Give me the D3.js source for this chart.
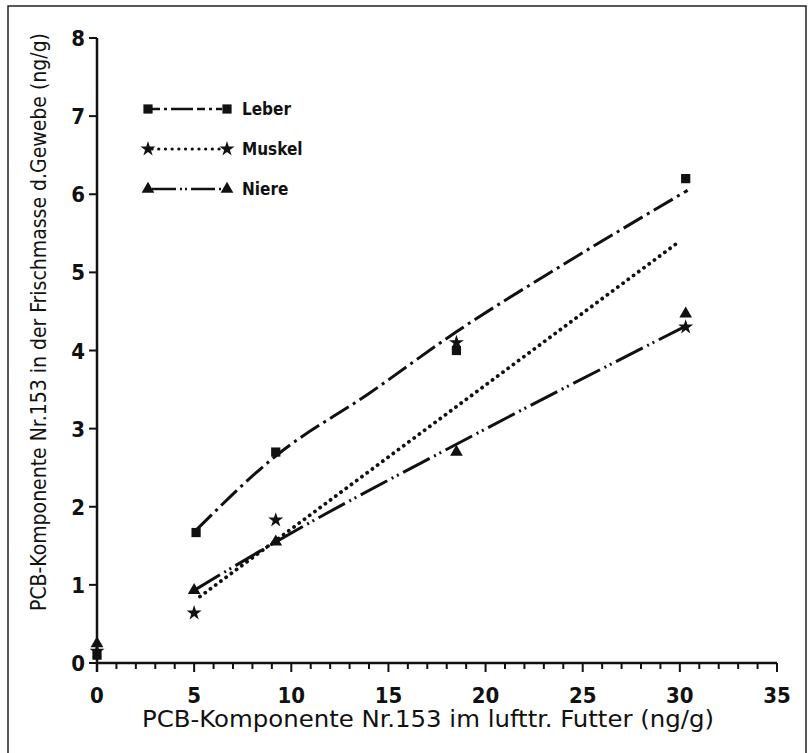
<!DOCTYPE html>
<html>
<head>
<meta charset="utf-8">
<script src="https://cdn.jsdelivr.net/npm/d3@7/dist/d3.min.js"></script>
<style>
  body { margin: 0; background: #fff; }
  text { font-family: "DejaVu Sans Condensed", "DejaVu Sans", sans-serif; fill: #111; }
</style>
</head>
<body>
<svg id="chart" width="809" height="753"></svg>
<script>
// measured points
const leberX  = [0, 5.1, 9.2, 18.5, 30.3]
const leberY  = [0.1, 1.67, 2.7, 4.0, 6.2]
const muskelX = [0, 5.0, 9.2, 18.5, 30.3]
const muskelY = [0.15, 0.64, 1.83, 4.1, 4.3]
const niereX  = [0, 5.0, 9.2, 18.5, 30.3]
const niereY  = [0.25, 0.93, 1.55, 2.7, 4.47]

// fitted curves
const leberFitX  = [5.1, 9.2, 14, 18.5, 24, 30.4]
const leberFitY  = [1.7, 2.65, 3.45, 4.24, 5.1, 6.05]
const muskelFitX = [5.3, 30.0]
const muskelFitY = [0.85, 5.4]
const niereFitX  = [5.0, 9.2, 18.5, 30.2]
const niereFitY  = [0.93, 1.55, 2.8, 4.3]

const xTicks = [0, 5, 10, 15, 20, 25, 30, 35]
const yTicks = [0, 1, 2, 3, 4, 5, 6, 7, 8]
const legendNames = ['Leber', 'Muskel', 'Niere']

const svg = d3.select('#chart')
const x = d3.scaleLinear().domain([0, 35]).range([97, 777])
const y = d3.scaleLinear().domain([0, 8]).range([663, 38])

// frame (bottom edge cut off in the scan)
svg.append('path')
    .attr('d', 'M8,753 L8,6 L806,6 L806,753')
    .attr('fill', 'none').attr('stroke', '#222').attr('stroke-width', 1.5)

const series = [
  {name: 'Leber', px: leberX, py: leberY, fx: leberFitX, fy: leberFitY, sym: d3.symbolSquare, size: 85, dash: '22 5 3 5', cap: 'butt'},
  {name: 'Muskel', px: muskelX, py: muskelY, fx: muskelFitX, fy: muskelFitY, sym: d3.symbolStar, size: 70, dash: '0.1 6.4', cap: 'round'},
  {name: 'Niere', px: niereX, py: niereY, fx: niereFitX, fy: niereFitY, sym: d3.symbolTriangle, size: 70, dash: '30 5 2 4 2 5', cap: 'butt'}
]

const line = d3.line().curve(d3.curveMonotoneX)

series.forEach(s => {
  const pts = s.fx.map((v, i) => [x(v), y(s.fy[i])])
  svg.append('path')
      .attr('d', line(pts))
      .attr('fill', 'none')
      .attr('stroke', '#111')
      .attr('stroke-width', s.cap == 'round' ? 3.8 : 3)
      .attr('stroke-linecap', s.cap)
      .attr('stroke-dasharray', s.dash)

  svg.selectAll(null).data(s.px.map((v, i) => [v, s.py[i]])).join('path')
      .attr('d', d3.symbol().type(s.sym).size(s.size))
      .attr('transform', d => `translate(${x(d[0])},${y(d[1])})`)
      .attr('fill', '#111')
})

// axes
const xAxis = svg.append('g')
xAxis.append('line').attr('x1', x(0)).attr('x2', x(35)).attr('y1', y(0)).attr('y2', y(0))
    .attr('stroke', '#111').attr('stroke-width', 2.5)
xAxis.selectAll('.minor').data(d3.range(0, 36)).join('line')
    .attr('x1', d => x(d)).attr('x2', d => x(d))
    .attr('y1', y(0)).attr('y2', d => y(0) + (d % 5 == 0 ? 9 : 6))
    .attr('stroke', '#111').attr('stroke-width', 2)
xAxis.selectAll('text').data(xTicks).join('text')
    .attr('x', d => x(d)).attr('y', 703)
    .attr('text-anchor', 'middle')
    .attr('font-size', 22).attr('font-weight', 'bold')
    .text(d => d)

const yAxis = svg.append('g')
yAxis.append('line').attr('x1', x(0)).attr('x2', x(0)).attr('y1', y(0) + 9).attr('y2', y(8))
    .attr('stroke', '#111').attr('stroke-width', 2.5)
yAxis.selectAll('.tick').data(yTicks).join('line')
    .attr('x1', x(0)).attr('x2', x(0) - 8)
    .attr('y1', d => y(d)).attr('y2', d => y(d))
    .attr('stroke', '#111').attr('stroke-width', 2)
yAxis.selectAll('text').data(yTicks).join('text')
    .attr('x', 85).attr('y', d => y(d) + 8)
    .attr('text-anchor', 'end')
    .attr('font-size', 22).attr('font-weight', 'bold')
    .text(d => d)

svg.append('text')
    .attr('x', 428).attr('y', 727)
    .attr('text-anchor', 'middle')
    .attr('font-size', 23)
    .attr('textLength', 572)
    .attr('lengthAdjust', 'spacingAndGlyphs')
    .text('PCB-Komponente Nr.153 im lufttr. Futter (ng/g)')

svg.append('text')
    .attr('transform', 'translate(46,322) rotate(-90)')
    .attr('text-anchor', 'middle')
    .attr('font-size', 22)
    .attr('textLength', 578)
    .attr('lengthAdjust', 'spacingAndGlyphs')
    .text('PCB-Komponente Nr.153 in der Frischmasse d.Gewebe (ng/g)')

// legend
const legY = [109, 149, 189]
series.forEach((s, i) => {
  const g = svg.append('g')
  g.append('line').attr('x1', 152).attr('x2', 222).attr('y1', legY[i]).attr('y2', legY[i])
      .attr('stroke', '#111').attr('stroke-width', s.cap == 'round' ? 3.2 : 2.5)
      .attr('stroke-linecap', s.cap)
      .attr('stroke-dasharray', i == 0 ? '8 4 3 4 22 4' : (i == 1 ? '0.1 6.6' : '24 4 2 3 2 4'))
  g.selectAll('path').data([148, 227]).join('path')
      .attr('d', d3.symbol().type(s.sym).size(s.size))
      .attr('transform', d => `translate(${d},${legY[i]})`)
      .attr('fill', '#111')
  g.append('text').attr('x', 242).attr('y', legY[i] + 6)
      .attr('font-size', 17).attr('font-weight', 'bold')
      .text(legendNames[i])
})
</script>
</body>
</html>
